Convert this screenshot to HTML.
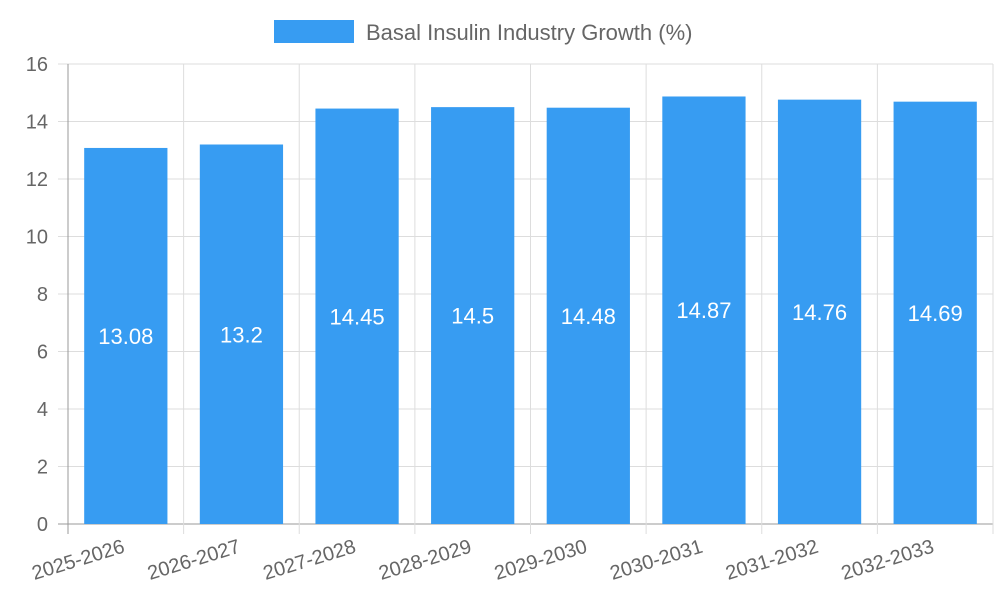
<!DOCTYPE html>
<html><head><meta charset="utf-8"><style>
html,body{margin:0;padding:0;background:#fff;}
svg{display:block;font-family:"Liberation Sans",sans-serif;}
</style></head><body>
<svg id="chart" width="1000" height="600">
<g>
<rect x="274" y="20" width="80" height="23" fill="#379cf2"/>
<text x="366" y="40" font-size="22" fill="#666">Basal Insulin Industry Growth (%)</text>
</g>
<g id="grid"></g>
<g id="bars"></g>
<g id="axes"></g>
</svg>
<script>
const categories=["2025-2026","2026-2027","2027-2028","2028-2029","2029-2030","2030-2031","2031-2032","2032-2033"];
const values=[13.08,13.2,14.45,14.5,14.48,14.87,14.76,14.69];
const yTicks=[0,2,4,6,8,10,12,14,16];
const NS="http://www.w3.org/2000/svg";
const L=68,R=993,T=64,B=524,yMax=16;
const band=(R-L)/categories.length;
const y=v=>B-(v/yMax)*(B-T);
const xb=i=>L+i*band;
function mk(tag,attrs,parent,txt){const e=document.createElementNS(NS,tag);for(const k in attrs)e.setAttribute(k,attrs[k]);if(txt!==undefined)e.textContent=txt;parent.appendChild(e);return e;}
const grid=document.getElementById('grid'),bars=document.getElementById('bars'),axes=document.getElementById('axes');
yTicks.forEach(t=>{
 const l=mk('line',{x1:58,x2:R,y1:y(t),y2:y(t),stroke:t===0?'#999':'#ddd','stroke-width':1},grid);
 
 
 const tx=mk('text',{x:48,y:y(t)+7,'text-anchor':'end','font-size':20,fill:'#666'},axes,String(t));
 
 
});
for(let i=0;i<=categories.length;i++){
 const l=mk('line',{x1:xb(i),x2:xb(i),y1:T,y2:B+10,stroke:i===0?'#999':'#ddd','stroke-width':1},grid);
 
 
}
categories.forEach((c,i)=>{
 const bw=band*0.72,x0=xb(i)+(band-bw)/2,top=y(values[i]);
 const r=mk('rect',{x:x0,y:top,width:bw,height:B-top,fill:'#379cf2'},bars);
 
 
 const t=mk('text',{x:x0+bw/2,y:(top+B)/2+8,'text-anchor':'middle','font-size':22,fill:'#fff'},bars,String(values[i]));
 
 
 const cx=xb(i)+band/2;
 const xl=mk('text',{x:cx,y:B+28,'text-anchor':'end','font-size':20,fill:'#666',transform:`rotate(-17 ${cx} ${B+28})`},axes,c);
 
 
});
</script>
</body></html>
